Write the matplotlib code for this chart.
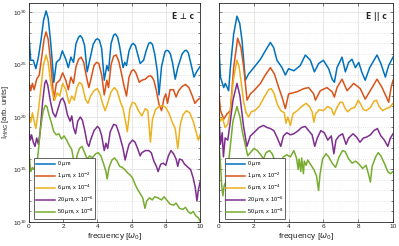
import numpy as np
import matplotlib
matplotlib.use("Agg")
import matplotlib.pyplot as plt
from matplotlib.ticker import NullFormatter

plt.rcParams['font.family'] = ['Liberation Sans', 'DejaVu Sans']
plt.rcParams['mathtext.fontset'] = 'dejavusans'

# curves: (frequency, log10 intensity)
# ---- E perpendicular c ----
perp_0 = [(0, 27.6), (0.1, 25.4), (0.25, 25.4), (0.4, 24.6), (0.55, 25.7), (0.7, 27.3), (0.85, 29.2),
          (1.0, 30.1), (1.12, 29.4), (1.25, 27.4), (1.35, 25.5), (1.45, 23.3), (1.6, 25.2), (1.8, 25.5),
          (1.95, 26.3), (2.15, 25.5), (2.3, 24.7), (2.45, 25.7), (2.6, 25.2), (2.75, 27.0), (2.9, 27.6),
          (3.0, 27.75), (3.12, 27.5), (3.25, 26.8), (3.4, 24.3), (3.55, 25.4), (3.75, 26.9), (3.9, 27.35),
          (4.0, 27.45), (4.12, 27.3), (4.25, 26.5), (4.4, 23.5), (4.55, 24.9), (4.65, 24.4), (4.8, 27.0),
          (4.95, 27.8), (5.05, 27.9), (5.18, 27.6), (5.3, 26.7), (5.5, 24.7), (5.6, 25.2), (5.7, 24.9),
          (5.85, 26.3), (6.0, 26.9), (6.1, 27.0), (6.22, 26.8), (6.35, 26.0), (6.5, 25.1), (6.7, 25.4),
          (6.85, 26.3), (7.0, 27.0), (7.1, 27.1), (7.22, 26.9), (7.35, 26.0), (7.5, 24.4), (7.6, 22.1),
          (7.75, 24.8), (7.95, 26.2), (8.05, 26.35), (8.15, 26.3), (8.27, 26.0), (8.4, 25.1), (8.55, 23.6),
          (8.7, 24.7), (8.95, 26.0), (9.1, 26.3), (9.2, 26.35), (9.32, 26.1), (9.45, 25.2), (9.65, 23.8),
          (9.8, 24.3), (10, 24.8)]
perp_1 = [(0, 23.3), (0.1, 22.5), (0.2, 23.2), (0.3, 22.6), (0.45, 23.6), (0.6, 24.0), (0.75, 25.8),
          (0.88, 27.4), (1.0, 28.1), (1.12, 27.4), (1.25, 25.5), (1.35, 23.6), (1.45, 21.6), (1.6, 23.2),
          (1.8, 23.5), (1.97, 24.2), (2.15, 23.5), (2.3, 22.6), (2.45, 23.8), (2.6, 23.2), (2.75, 24.8),
          (2.9, 25.5), (3.05, 25.7), (3.2, 25.2), (3.35, 23.9), (3.5, 22.8), (3.62, 23.6), (3.8, 24.9),
          (3.95, 25.2), (4.08, 25.1), (4.25, 24.0), (4.4, 22.1), (4.55, 23.5), (4.65, 22.8), (4.8, 25.0),
          (4.95, 25.8), (5.1, 25.9), (5.25, 25.3), (5.4, 24.2), (5.55, 23.0), (5.7, 22.0), (5.85, 23.8),
          (6.0, 24.4), (6.12, 24.5), (6.25, 24.2), (6.45, 23.3), (6.6, 23.5), (6.8, 23.6), (7.0, 23.9),
          (7.15, 23.9), (7.3, 23.5), (7.45, 22.5), (7.6, 21.2), (7.75, 20.6), (7.9, 21.8), (8.0, 22.2),
          (8.1, 21.3), (8.25, 22.6), (8.45, 22.6), (8.6, 21.9), (8.75, 22.5), (8.95, 22.9), (9.15, 23.1),
          (9.35, 22.8), (9.55, 22.0), (9.7, 21.3), (9.85, 21.6), (10, 21.8)]
perp_6 = [(0, 20.0), (0.1, 19.5), (0.2, 20.4), (0.3, 19.6), (0.4, 18.9), (0.55, 20.6), (0.7, 22.8),
          (0.85, 25.0), (1.0, 25.9), (1.12, 25.2), (1.25, 23.5), (1.35, 22.5), (1.5, 21.6), (1.65, 22.3),
          (1.8, 22.0), (1.97, 23.2), (2.15, 22.6), (2.35, 21.3), (2.5, 22.0), (2.65, 21.6), (2.8, 22.8),
          (2.95, 23.3), (3.1, 23.1), (3.3, 21.7), (3.45, 21.3), (3.6, 22.0), (3.8, 22.5), (4.0, 22.7),
          (4.15, 22.2), (4.3, 21.3), (4.45, 20.6), (4.6, 21.3), (4.8, 22.4), (5.0, 22.8), (5.15, 22.5),
          (5.35, 21.4), (5.5, 20.8), (5.65, 19.5), (5.75, 18.6), (5.9, 20.8), (6.05, 21.4), (6.2, 21.3),
          (6.4, 20.6), (6.6, 20.1), (6.8, 20.8), (6.95, 20.6), (7.1, 17.6), (7.22, 19.8), (7.4, 20.7),
          (7.6, 21.0), (7.8, 21.1), (8.0, 20.9), (8.2, 20.3), (8.4, 19.4), (8.55, 18.9), (8.7, 17.0),
          (8.85, 19.3), (9.0, 20.2), (9.2, 20.6), (9.4, 20.4), (9.6, 19.6), (9.75, 18.7), (9.9, 17.8),
          (10, 18.3)]
perp_20 = [(0, 18.6), (0.08, 17.8), (0.15, 18.3), (0.25, 17.6), (0.35, 17.2), (0.45, 18.0), (0.55, 17.4),
           (0.65, 18.6), (0.8, 21.5), (0.92, 23.2), (1.0, 23.5), (1.1, 23.0), (1.25, 21.5), (1.4, 20.4),
           (1.55, 20.0), (1.7, 20.8), (1.85, 21.6), (1.97, 21.8), (2.1, 21.3), (2.25, 20.2), (2.4, 19.6),
           (2.5, 20.1), (2.6, 19.0), (2.72, 18.4), (2.85, 19.6), (3.0, 20.0), (3.12, 19.7), (3.25, 18.8),
           (3.4, 17.5), (3.5, 17.2), (3.6, 17.8), (3.8, 18.7), (4.0, 19.1), (4.12, 18.9), (4.25, 18.2),
           (4.4, 16.8), (4.5, 17.5), (4.6, 17.0), (4.75, 18.6), (4.95, 19.3), (5.1, 19.2), (5.25, 18.5),
           (5.4, 17.6), (5.5, 17.0), (5.62, 15.9), (5.72, 16.6), (5.85, 17.4), (6.05, 17.8), (6.2, 17.6),
           (6.35, 17.0), (6.5, 16.3), (6.6, 16.6), (6.8, 16.8), (7.0, 16.8), (7.15, 16.6), (7.3, 15.8),
           (7.45, 15.3), (7.55, 14.8), (7.7, 15.5), (7.85, 15.6), (8.0, 15.4), (8.15, 16.3), (8.3, 16.8),
           (8.45, 16.5), (8.6, 16.0), (8.7, 15.3), (8.8, 16.0), (8.95, 15.9), (9.1, 15.5), (9.3, 15.2),
           (9.45, 15.0), (9.6, 14.2), (9.72, 13.3), (9.82, 12.0), (9.9, 13.0), (10, 13.8)]
perp_50 = [(0, 16.5), (0.1, 14.8), (0.2, 15.2), (0.3, 15.0), (0.45, 15.4), (0.55, 16.8), (0.68, 19.0),
           (0.82, 20.5), (0.95, 21.1), (1.05, 21.0), (1.15, 20.3), (1.3, 19.5), (1.45, 18.6), (1.6, 18.3),
           (1.75, 18.4), (1.9, 17.9), (2.05, 18.2), (2.2, 17.8), (2.35, 17.3), (2.5, 16.9), (2.62, 15.8),
           (2.7, 14.9), (2.8, 16.3), (2.95, 17.0), (3.1, 17.2), (3.25, 16.6), (3.4, 16.0), (3.55, 16.3),
           (3.7, 16.1), (3.9, 16.5), (4.05, 16.6), (4.2, 16.3), (4.35, 15.6), (4.5, 14.8), (4.57, 14.1),
           (4.68, 15.2), (4.85, 15.9), (5.0, 16.1), (5.15, 15.8), (5.3, 15.3), (5.45, 15.2), (5.6, 15.0),
           (5.75, 14.7), (5.9, 14.5), (6.05, 14.2), (6.2, 13.6), (6.35, 13.1), (6.5, 12.7), (6.65, 12.3),
           (6.78, 11.3), (6.88, 12.0), (7.05, 12.3), (7.2, 12.1), (7.35, 12.4), (7.55, 12.3), (7.75, 12.1),
           (7.9, 12.4), (8.05, 12.1), (8.25, 11.7), (8.45, 11.6), (8.6, 11.8), (8.8, 11.3), (9.0, 11.2),
           (9.15, 11.4), (9.3, 11.0), (9.45, 10.8), (9.6, 11.0), (9.75, 10.6), (9.9, 10.4), (10, 10.1)]

# ---- E parallel c ----
par_0 = [(0, 26.6), (0.08, 23.8), (0.27, 22.8), (0.36, 23.2), (0.55, 22.5), (0.65, 24.7), (0.84, 27.9),
         (1.03, 29.6), (1.19, 28.9), (1.32, 27.3), (1.51, 23.5), (1.7, 24.1), (2.0, 24.7), (2.38, 25.5),
         (2.66, 26.3), (2.95, 27.1), (3.14, 26.6), (3.33, 25.4), (3.62, 24.7), (3.81, 24.0), (4.0, 24.6),
         (4.3, 24.4), (4.67, 24.9), (4.96, 25.9), (5.25, 25.4), (5.48, 24.3), (5.73, 25.1), (6.0, 25.4),
         (6.3, 24.6), (6.5, 23.6), (6.63, 23.3), (6.78, 24.7), (7.07, 25.7), (7.26, 24.3), (7.45, 25.2),
         (7.64, 25.5), (7.84, 24.7), (8.03, 25.2), (8.2, 24.3), (8.4, 23.5), (8.66, 24.7), (9.08, 25.9),
         (9.3, 25.1), (9.56, 23.8), (9.75, 24.9), (10, 25.7)]
par_1 = [(0, 22.2), (0.08, 20.6), (0.27, 19.8), (0.46, 20.3), (0.65, 20.6), (0.84, 24.7), (1.07, 27.5),
         (1.26, 26.6), (1.42, 24.7), (1.61, 21.6), (1.8, 22.2), (2.0, 22.5), (2.38, 23.2), (2.66, 24.0),
         (2.95, 24.7), (3.18, 24.1), (3.43, 22.8), (3.62, 21.9), (3.81, 20.8), (4.0, 22.2), (4.48, 22.4),
         (4.87, 22.7), (5.15, 22.8), (5.44, 22.2), (5.54, 21.6), (5.82, 22.5), (6.2, 22.8), (6.5, 22.4),
         (6.63, 21.9), (6.78, 22.8), (7.07, 23.6), (7.36, 22.5), (7.74, 23.2), (8.12, 22.7), (8.4, 21.7),
         (8.8, 22.8), (9.08, 23.6), (9.37, 22.8), (9.62, 21.9), (9.75, 21.4), (9.89, 22.8), (10, 23.5)]
par_6 = [(0, 20.4), (0.08, 19.6), (0.2, 19.9), (0.35, 19.0), (0.5, 19.3), (0.65, 20.6), (0.82, 23.5),
         (1.03, 25.4), (1.15, 24.8), (1.28, 23.2), (1.42, 21.4), (1.55, 20.4), (1.7, 20.0), (1.85, 20.5),
         (2.05, 20.6), (2.3, 21.0), (2.6, 21.9), (2.85, 22.6), (3.0, 22.7), (3.15, 22.3), (3.35, 21.2),
         (3.55, 20.6), (3.75, 20.4), (3.85, 19.4), (3.95, 20.0), (4.1, 19.2), (4.25, 20.3), (4.5, 20.6),
         (4.75, 21.0), (5.0, 21.3), (5.2, 21.0), (5.35, 20.5), (5.45, 19.5), (5.55, 20.3), (5.75, 20.7),
         (6.0, 20.6), (6.25, 21.0), (6.45, 20.8), (6.6, 20.2), (6.75, 20.8), (6.95, 21.4), (7.1, 21.4),
         (7.25, 20.8), (7.4, 20.5), (7.6, 20.8), (7.8, 20.9), (8.0, 21.6), (8.15, 21.2), (8.3, 20.7),
         (8.45, 20.6), (8.7, 20.9), (8.9, 21.5), (9.05, 21.6), (9.2, 21.0), (9.4, 20.6), (9.6, 20.8),
         (9.8, 20.9), (10, 21.3)]
par_20 = [(0, 19.8), (0.08, 17.4), (0.18, 18.5), (0.25, 16.2), (0.35, 18.0), (0.5, 17.8), (0.62, 19.2),
          (0.8, 21.6), (1.03, 23.2), (1.2, 22.0), (1.4, 19.2), (1.6, 17.2), (1.8, 18.2), (2.0, 18.5),
          (2.3, 19.0), (2.55, 19.2), (2.75, 19.0), (2.95, 18.9), (3.15, 18.7), (3.35, 18.0), (3.55, 17.2),
          (3.7, 18.2), (3.9, 18.5), (4.1, 18.3), (4.3, 18.4), (4.55, 18.7), (4.75, 19.0), (4.95, 19.1),
          (5.15, 18.7), (5.35, 18.3), (5.5, 17.2), (5.65, 18.0), (5.85, 18.7), (6.05, 18.5), (6.25, 17.8),
          (6.45, 18.2), (6.6, 16.5), (6.72, 17.8), (6.9, 18.2), (7.1, 18.4), (7.3, 17.4), (7.45, 18.0),
          (7.7, 18.4), (7.9, 18.1), (8.1, 17.6), (8.3, 18.0), (8.5, 18.1), (8.7, 18.3), (8.9, 18.7),
          (9.1, 18.9), (9.3, 18.2), (9.5, 17.8), (9.7, 17.2), (9.85, 18.0), (10, 18.4)]
par_50 = [(0, 17.4), (0.08, 15.5), (0.15, 13.5), (0.22, 12.5), (0.3, 13.5), (0.45, 14.0), (0.6, 16.5),
          (0.8, 19.6), (1.03, 21.0), (1.2, 20.0), (1.35, 18.5), (1.5, 17.4), (1.65, 16.3), (1.8, 16.6),
          (2.0, 17.0), (2.2, 16.8), (2.4, 16.4), (2.55, 16.0), (2.7, 16.6), (2.9, 16.8), (3.05, 16.5),
          (3.2, 15.9), (3.35, 15.1), (3.5, 15.6), (3.7, 16.2), (3.9, 16.4), (4.1, 16.2), (4.3, 16.8),
          (4.45, 16.1), (4.55, 15.0), (4.6, 16.0), (4.7, 14.8), (4.75, 16.1), (4.85, 14.6), (4.9, 15.8),
          (5.0, 15.4), (5.1, 15.9), (5.25, 15.5), (5.45, 15.0), (5.6, 14.4), (5.72, 13.0), (5.8, 14.5),
          (5.95, 16.0), (6.15, 16.5), (6.3, 16.2), (6.5, 15.6), (6.7, 15.2), (6.9, 16.2), (7.1, 16.8),
          (7.25, 16.7), (7.45, 16.0), (7.65, 15.6), (7.85, 15.8), (8.05, 15.5), (8.25, 15.1), (8.45, 15.4),
          (8.6, 14.5), (8.7, 13.8), (8.8, 15.3), (9.0, 16.2), (9.15, 16.6), (9.3, 16.3), (9.5, 15.6),
          (9.7, 14.8), (9.85, 14.6), (10, 14.8)]

labels = [r'0 $\mu$m', r'1 $\mu$m, x 10$^{-2}$', r'6 $\mu$m, x 10$^{-4}$',
          r'20 $\mu$m, x 10$^{-6}$', r'50 $\mu$m, x 10$^{-8}$']
colores = ['#0072BD', '#D95319', '#EDB120', '#7E2F8E', '#77AC30']

fig = plt.figure(figsize=(3.99, 2.46), dpi=100)
ax1 = fig.add_axes([0.0727, 0.0976, 0.4286, 0.890])
ax2 = fig.add_axes([0.549, 0.0976, 0.436, 0.890])

paneles = [(ax1, [perp_0, perp_1, perp_6, perp_20, perp_50], 'E \u22a5 c', 'frecuency [$\\omega_0$]'),
           (ax2, [par_0, par_1, par_6, par_20, par_50], 'E || c', 'frequency [$\\omega_0$]')]

for ax, curvas, titulo, xlab in paneles:
    for c, col, lab in zip(curvas, colores, labels):
        f = np.array([p[0] for p in c])
        s = np.array([p[1] for p in c])
        ax.plot(f, 10.0**s, color=col, lw=1.1, label=lab)
    ax.set_yscale('log')
    ax.set_xlim(0, 10)
    ax.set_ylim(1e10, 10**30.85)
    ax.set_xticks([0, 2, 4, 6, 8, 10])
    ax.set_yticks([1e10, 1e15, 1e20, 1e25, 1e30])
    ax.set_yticks([10.0**k for k in range(10, 31)], minor=True)
    ax.yaxis.set_minor_formatter(NullFormatter())
    ax.grid(True, which='major', color='#e3e3e3', lw=0.6)
    ax.grid(True, which='minor', axis='y', color='#d0d0d0', lw=0.5, ls=(0, (1, 2)))
    ax.set_axisbelow(True)
    ax.tick_params(which='both', direction='in', labelsize=4.6, length=2, width=0.4,
                   top=True, right=True, pad=1.8, colors='#262626')
    ax.tick_params(which='minor', length=1.2)
    for sp in ax.spines.values():
        sp.set_linewidth(0.6)
        sp.set_color('#262626')
    ax.set_xlabel(xlab, fontsize=6, labelpad=1, color='#262626')
    ax.text(0.965, 0.96, titulo, transform=ax.transAxes, ha='right', va='top', fontsize=5.5,
            fontweight='bold', family=['DejaVu Sans'], color='#262626')
    leg = ax.legend(loc='lower left', bbox_to_anchor=(0.025, 0.008), fontsize=4.0,
                    handlelength=3.4, handletextpad=0.3, borderpad=0.3, labelspacing=0.35,
                    borderaxespad=0.2, fancybox=False, framealpha=1, edgecolor='#262626')
    leg.get_frame().set_linewidth(0.5)

ax2.set_yticklabels([])
ax1.set_ylabel('I$_{HHG}$ [arb. units]', fontsize=5.5, color='#262626')
ax1.yaxis.set_label_coords(-0.105, 0.5)

fig.savefig('out.png', dpi=100)
